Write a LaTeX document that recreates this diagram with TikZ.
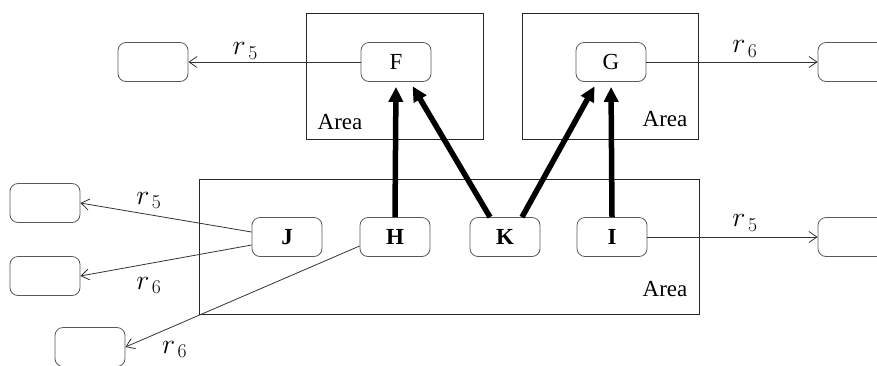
\RequirePackage{fix-cm}
\documentclass[tikz,border=0pt]{standalone}
\usepackage[no-math]{fontspec}
\setmainfont{Liberation Serif}
\usetikzlibrary{arrows.meta}
\begin{document}
\begin{tikzpicture}[x=1pt,y=-1pt,
  box/.style={draw=black!65, rounded corners=8pt, minimum width=70pt, minimum height=39pt, inner sep=0pt, font=\fontsize{23}{27}\selectfont, line width=0.8pt},
  area/.style={draw=black!85, line width=0.8pt, anchor=north west, inner sep=0pt},
  rel/.style={draw=black!80, line width=0.8pt, -{Straight Barb[length=8pt,width=11pt]}},
  big/.style={line width=5.5pt, -{Triangle[length=15pt,width=14pt]}, shorten >=5pt},
  lab/.style={font=\fontsize{23}{27}\selectfont, inner sep=0pt},
  rlab/.style={font=\fontsize{28}{32}\selectfont, inner sep=0pt}
]
\useasboundingbox (0,0) rectangle (877,365);
% areas
\node[area, minimum width=177pt, minimum height=126pt] (A1) at (306,13) {};
\node[area, minimum width=176pt, minimum height=126pt] (A2) at (522,13) {};
\node[area, minimum width=500pt, minimum height=135pt] (A3) at (199,179) {};
\node[lab] (A1l) at (340,122) {Area};
\node[lab] (A2l) at (665,119) {Area};
\node[lab] (A3l) at (665,289) {Area};
% nodes
\node[box] (F) at (396,62) {F};
\node[box] (G) at (611,62) {G};
\node[box] (J) at (287,237) {\bfseries J};
\node[box] (H) at (395,237) {\bfseries H};
\node[box] (K) at (505,237) {\bfseries K};
\node[box] (I) at (612,237) {\bfseries I};
% empty targets
\node[box] (eF) at (153,62) {};
\node[box] (eG) at (853,62) {};
\node[box] (eI) at (853,237) {};
\node[box] (eJ1) at (45,203) {};
\node[box] (eJ2) at (45,276) {};
\node[box] (eH) at (90,347) {};
% thin relations
\draw[rel] (F) -- node[rlab, pos=0.67, yshift=11pt] {$r_{\,5}$} (eF);
\draw[rel] (G) -- node[rlab, pos=0.575, yshift=13pt] {$r_{\,6}$} (eG);
\draw[rel] (I) -- node[rlab, pos=0.573, yshift=14pt] {$r_{\,5}$} (eI);
\draw[rel] ([yshift=5pt]J.west) -- node[rlab, pos=0.6, yshift=14pt] {$r_{\,5}$} (eJ1.east);
\draw[rel] ([yshift=-8pt]J.west) -- node[rlab, pos=0.6, yshift=-22pt] {$r_{\,6}$} (eJ2.east);
\draw[rel] ([yshift=-9pt]H.west) -- node[rlab, pos=0.79, yshift=-24pt] {$r_{\,6}$} (eH.east);
% thick arrows
\draw[big] (H.north) -- (F.south);
\draw[big] ([xshift=-15pt]K.north) -- ([xshift=14pt]F.south);
\draw[big] ([xshift=17pt]K.north) -- ([xshift=-14pt]G.south);
\draw[big] (I.north) -- (G.south);
\end{tikzpicture}
\end{document}
